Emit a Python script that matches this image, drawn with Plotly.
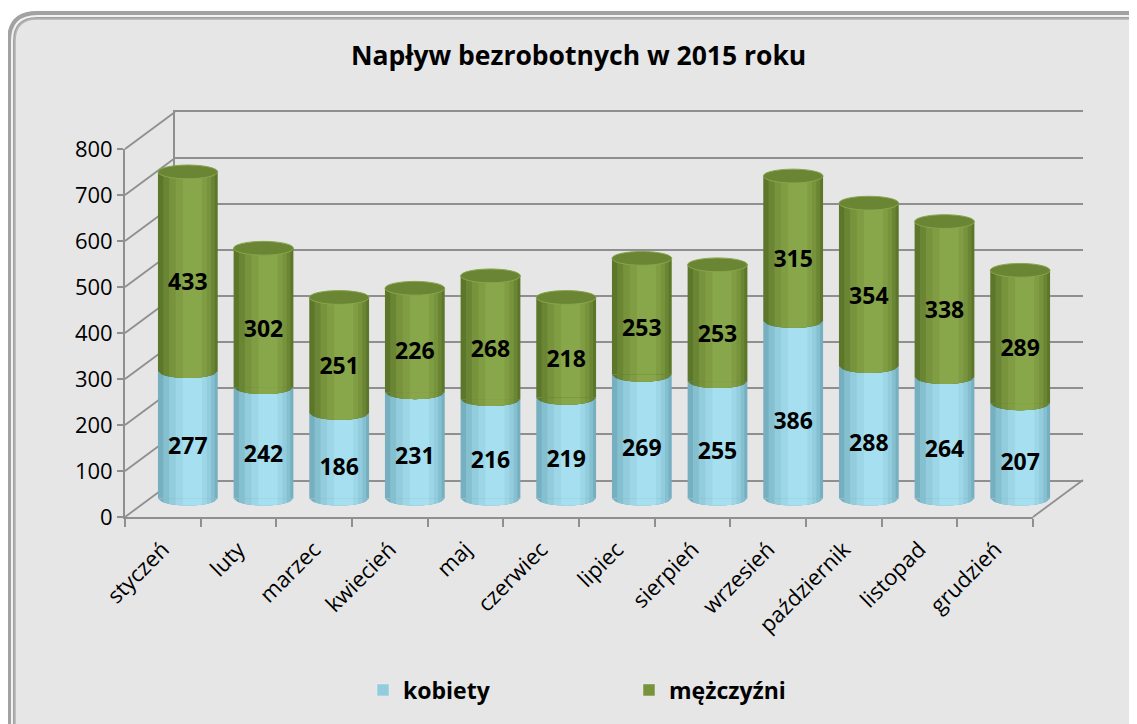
import math
import plotly.graph_objects as go

months = ["styczeń", "luty", "marzec", "kwiecień", "maj", "czerwiec", "lipiec",
          "sierpień", "wrzesień", "październik", "listopad", "grudzień"]
kobiety = [277, 242, 186, 231, 216, 219, 269, 255, 386, 288, 264, 207]
mezczyzni = [433, 302, 251, 226, 268, 218, 253, 253, 315, 354, 338, 289]
y_ticks = [0, 100, 200, 300, 400, 500, 600, 700, 800]

W, H = 1137, 724
OFF = 8  # page body margin
FONT = "Open Sans"
# shades for the cylinders, from edge to highlight
BLUE = ("#76AFBF", "#85C0D0", "#93CDDD", "#9DD7E7", "#A6E0F0")
GREEN = ("#5C772A", "#6A8634", "#77933C", "#809D43", "#88A74A")
CAP = "#6A8634"
GRID = "#8F8F8F"
YMAX = 800
YMIN_BARS = -40

# pixel geometry of the pseudo-3D box (front face, depth offset) in screen pixels
FX0, FX1, FY0, FY1 = 125, 1033, 517, 149   # front: left, right, y of 0, y of YMAX
DX, DY = 50, -37                            # depth offset of the back wall
TXT_DY = 10                                 # labels sit slightly below segment centres
BW = 0.79                                   # bar width (category units)
LAYERS = [(1.0, 0.0), (0.86, 0.015), (0.70, 0.03), (0.52, 0.045), (0.32, 0.06)]
EH = 30                                     # ellipse height in data units


def px(x):
    return (x - OFF) / W


def py(y):
    return 1 - (y - OFF) / H


def ypix(v, depth=0.0):
    return FY0 + (FY1 - FY0) * v / YMAX + DY * depth


def half_ellipse_band(i, b, xa, xb, steps=16):
    """Lower half of the ellipse centred at (i, b), restricted to x offsets [xa, xb]."""
    a, c = BW / 2, EH / 2
    pts = [(i + xa, b), (i + xb, b)]
    for k in range(steps + 1):
        x = xb + (xa - xb) * k / steps
        t = max(0.0, 1 - (x / a) ** 2)
        pts.append((i + x, b - c * math.sqrt(t)))
    return "M " + " L ".join(f"{x:.4f},{y:.3f}" for x, y in pts) + " Z"


n = len(months)
fig = go.Figure()

# invisible traces so that front/back axes and the overlay axis exist
fig.add_trace(go.Scatter(x=months, y=[0] * n, xaxis="x", yaxis="y", mode="markers",
                         marker=dict(opacity=0), showlegend=False, hoverinfo="skip"))
fig.add_trace(go.Scatter(x=months, y=[0] * n, xaxis="x2", yaxis="y2", mode="markers",
                         marker=dict(opacity=0), showlegend=False, hoverinfo="skip"))
fig.add_trace(go.Scatter(x=list(range(n)), y=[0] * n, xaxis="x5", yaxis="y5", mode="markers",
                         marker=dict(opacity=0), showlegend=False, hoverinfo="skip"))

# cylinders: stacked manually (base) with shaded layers
segments = [("kobiety", kobiety, [0] * n, BLUE),
            ("mężczyźni", mezczyzni, kobiety, GREEN)]
for name, vals, base, shades in segments:
    for (wf, sh), col in zip(LAYERS, shades):
        fig.add_trace(go.Bar(
            x=months, y=vals, base=base, name=name, xaxis="x3", yaxis="y3",
            width=BW * wf, offset=-BW * wf / 2 + sh,
            marker=dict(color=col, line=dict(width=0)),
            showlegend=False, hoverinfo="skip",
        ))
# legend entries
for name, vals, base, shades in segments:
    fig.add_trace(go.Bar(x=[months[0]], y=[0], name=name, xaxis="x3", yaxis="y3",
                         marker=dict(color=shades[2]), showlegend=True, hoverinfo="skip",
                         width=0))

# value labels (transparent bars on a slightly lower copy of the bar axes)
for name, vals, base, shades in segments:
    fig.add_trace(go.Bar(
        x=months, y=vals, base=base, xaxis="x4", yaxis="y4", showlegend=False,
        width=BW, marker=dict(color="rgba(0,0,0,0)", line=dict(width=0)),
        text=vals, textposition="inside", insidetextanchor="middle",
        textfont=dict(family=FONT, size=23, color="black", weight="bold"),
        hoverinfo="skip",
    ))


# background panel with bevelled rounded border
def rounded(x0, y0, rad):
    x0p, y0p = px(x0), py(y0)
    rx, ry = rad / W, rad / H
    return (f"M {x0p + rx},{y0p} L 1.05,{y0p} L 1.05,-0.05 L {x0p},-0.05 "
            f"L {x0p},{y0p - ry} Q {x0p},{y0p} {x0p + rx},{y0p} Z")


fig.add_shape(type="path", path=rounded(11, 15, 26), xref="paper", yref="paper",
              fillcolor="#E6E6E6", line=dict(color="#A2A2A2", width=8), layer="below")
fig.add_shape(type="path", path=rounded(12, 16, 25), xref="paper", yref="paper",
              fillcolor="rgba(0,0,0,0)", line=dict(color="#F2F2F2", width=2), layer="below")
fig.add_shape(type="path", path=rounded(15, 19, 22), xref="paper", yref="paper",
              fillcolor="#E6E6E6", line=dict(color="#B4B4B4", width=1.5), layer="below")

# depth connectors for every gridline, and floor right edge
for v in y_ticks:
    fig.add_shape(type="line", xref="paper", yref="paper",
                  x0=px(FX0), y0=py(ypix(v)), x1=px(FX0 + DX), y1=py(ypix(v, 1)),
                  line=dict(color=GRID, width=1.8), layer="below")
fig.add_shape(type="line", xref="paper", yref="paper",
              x0=px(FX1), y0=py(ypix(0)), x1=px(FX1 + DX), y1=py(ypix(0, 1)),
              line=dict(color=GRID, width=1.8), layer="below")

# cylinder curves: shaded lower half-ellipse at the bottom of each segment, plus top cap
for i in range(n):
    b = 0
    for vals, shades in [(kobiety, BLUE), (mezczyzni, GREEN)]:
        for (wf, sh), col in zip(LAYERS, shades):
            hw = BW * wf / 2
            fig.add_shape(type="path", xref="x5", yref="y5",
                          path=half_ellipse_band(i, b, sh - hw, sh + hw),
                          fillcolor=col, line=dict(width=0), layer="above")
        b += vals[i]
    fig.add_shape(type="circle", xref="x5", yref="y5",
                  x0=i - BW / 2, x1=i + BW / 2, y0=b - EH / 2, y1=b + EH / 2,
                  fillcolor=CAP, line=dict(color="#88A64C", width=1), layer="above")

# title
fig.add_annotation(text="Napływ bezrobotnych w 2015 roku", xref="paper", yref="paper",
                   x=px(578), y=py(55), xanchor="center", yanchor="middle", showarrow=False,
                   font=dict(family=FONT, size=26.5, color="black", weight="bold"))

hidden = dict(showticklabels=False, showline=False, showgrid=False, ticks="",
              zeroline=False, automargin=False, fixedrange=True)
cat = dict(type="category", categoryarray=months, range=[-0.5, n - 0.5])
bars_xdom = [px(FX0 + DX / 2), px(FX1 + DX / 2)]
bars_ydom = [py(ypix(YMIN_BARS, 0.5)), py(ypix(YMAX, 0.5))]
fig.update_layout(
    width=W, height=H,
    barmode="overlay",
    paper_bgcolor="white", plot_bgcolor="rgba(0,0,0,0)",
    margin=dict(l=0, r=0, t=0, b=0, autoexpand=False),
    font=dict(family=FONT, color="black"),
    # front axes with labels
    xaxis=dict(domain=[px(FX0), px(FX1)], anchor="y", **cat,
               tickangle=-45, tickfont=dict(family=FONT, size=22), ticklabelstandoff=9,
               showline=True, linecolor=GRID, linewidth=1.8,
               ticks="outside", ticklen=8, tickcolor=GRID, tickwidth=1.5,
               tickson="boundaries", showgrid=False, zeroline=False,
               automargin=False, fixedrange=True),
    yaxis=dict(domain=[py(FY0), py(FY1)], range=[0, YMAX], tickvals=y_ticks, anchor="x",
               tickfont=dict(family=FONT, size=22),
               showline=True, linecolor=GRID, linewidth=1.8,
               ticks="outside", ticklen=6, tickcolor=GRID, tickwidth=1.5,
               showgrid=False, zeroline=False, automargin=False, fixedrange=True),
    # back wall with gridlines
    xaxis2=dict(domain=[px(FX0 + DX), px(FX1 + DX)], anchor="y2", **cat,
                showticklabels=False, showline=True, mirror=True, linecolor=GRID,
                linewidth=1.8, showgrid=False, ticks="", zeroline=False,
                automargin=False, fixedrange=True),
    yaxis2=dict(domain=[py(ypix(0, 1)), py(ypix(YMAX, 1))], range=[0, YMAX], anchor="x2",
                tickvals=y_ticks, showticklabels=False, showline=True, linecolor=GRID,
                linewidth=1.8, ticks="", showgrid=True, gridcolor=GRID, gridwidth=1.8,
                zeroline=False, automargin=False, fixedrange=True),
    # bars at mid depth
    xaxis3=dict(domain=bars_xdom, anchor="y3", **cat, **hidden),
    yaxis3=dict(domain=bars_ydom, range=[YMIN_BARS, YMAX], anchor="x3", **hidden),
    # label layer
    xaxis4=dict(domain=bars_xdom, anchor="y4", **cat, **hidden),
    yaxis4=dict(domain=[py(ypix(0, 0.5) + TXT_DY), py(ypix(YMAX, 0.5) + TXT_DY)],
                range=[0, YMAX], anchor="x4", **hidden),
    # linear twin of the bar axes for the cylinder curves
    xaxis5=dict(domain=bars_xdom, anchor="y5", type="linear", range=[-0.5, n - 0.5], **hidden),
    yaxis5=dict(domain=bars_ydom, range=[YMIN_BARS, YMAX], anchor="x5", **hidden),
    legend=dict(orientation="h", x=px(363), xanchor="left", y=py(690), yanchor="middle",
                entrywidth=221, entrywidthmode="pixels", bgcolor="rgba(0,0,0,0)",
                font=dict(family=FONT, size=23, weight="bold"), traceorder="normal"),
    showlegend=True,
    uniformtext=dict(minsize=23, mode="show"),
)

fig.write_html("out.html")
